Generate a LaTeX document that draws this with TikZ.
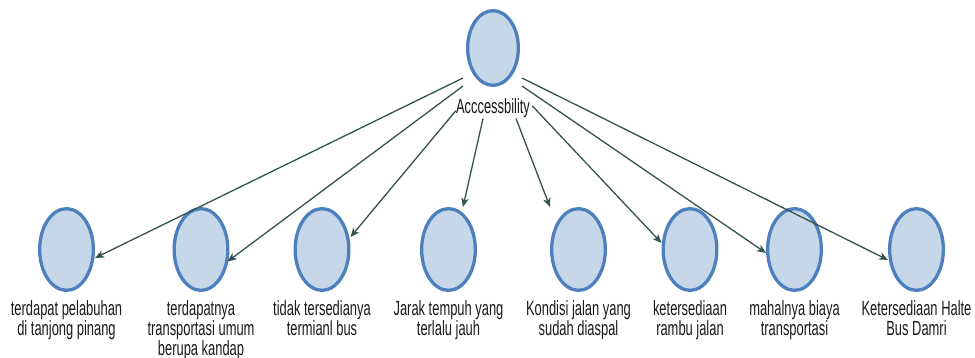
\documentclass[tikz,border=0pt]{standalone}
\usepackage{fontspec}
\setmainfont{Liberation Sans}[FakeStretch=0.63]
\usetikzlibrary{positioning, shapes.geometric, arrows.meta}
\definecolor{bubblefill}{HTML}{C5D7E9}
\definecolor{bubbleline}{HTML}{4E80BD}
\definecolor{linkcolor}{HTML}{35524F}
\begin{document}
\begin{tikzpicture}[x=1pt, y=-1pt,
		bubble/.style={ellipse, draw=bubbleline, fill=bubblefill, line width=3.3pt, inner sep=0pt},
		root/.style={bubble, minimum width=50.7pt, minimum height=74.7pt},
		leaf/.style={bubble, minimum width=53.7pt, minimum height=81.7pt},
		txt/.style={align=center, inner sep=0pt, text=black!90, font=\fontsize{20.5}{20}\selectfont},
		link/.style={draw=linkcolor, line width=1.3pt, -{Stealth[length=9pt, width=7.5pt, inset=2.5pt]}}]
		\useasboundingbox (0, 0) rectangle (975, 358);

		\node[root] (acc) at (493, 48) {};
		\node[txt, below=11pt of acc] (acclbl) {Acccessbility};

		\node[leaf] (n1) at (66.5, 249.5) {};
		\node[leaf] (n2) at (201, 249.5) {};
		\node[leaf] (n3) at (322, 249.5) {};
		\node[leaf] (n4) at (448.5, 249.5) {};
		\node[leaf] (n5) at (578.5, 249.5) {};
		\node[leaf] (n6) at (690, 249.5) {};
		\node[leaf] (n7) at (794.5, 249.5) {};
		\node[leaf] (n8) at (916.5, 249.5) {};

		\node[txt, below=8pt of n1] (t1) {terdapat pelabuhan\\di tanjong pinang};
		\node[txt, below=8pt of n2] (t2) {terdapatnya\\transportasi umum\\berupa kandap};
		\node[txt, below=8pt of n3] (t3) {tidak tersedianya\\termianl bus};
		\node[txt, below=8pt of n4] (t4) {Jarak tempuh yang\\terlalu jauh};
		\node[txt, below=8pt of n5] (t5) {Kondisi jalan yang\\sudah diaspal};
		\node[txt, below=8pt of n6] (t6) {ketersediaan\\rambu jalan};
		\node[txt, below=8pt of n7] (t7) {mahalnya biaya\\transportasi};
		\node[txt, below=8pt of n8] (t8) {Ketersediaan Halte\\Bus Damri};

		\draw[link] ([shift={(-3, 30)}]acc.west) -- ([shift={(0, 8.5)}]n1.east);
		\draw[link] ([shift={(-3, 38)}]acc.west) -- ([shift={(-2, 12)}]n2.east);
		\draw[link] ([shift={(0, 3)}]acclbl.west) -- ([shift={(0, -12.5)}]n3.east);
		\draw[link] ([shift={(-10, 1)}]acclbl.south) -- ([shift={(14.5, 0)}]n4.north);
		\draw[link] ([shift={(23, 1)}]acclbl.south) -- ([shift={(-28.5, 0)}]n5.north);
		\draw[link] ([shift={(2, -2)}]acclbl.east) -- ([shift={(0, -6.5)}]n6.west);
		\draw[link] ([shift={(2, 38)}]acc.east) -- ([shift={(0, 3.5)}]n7.west);
		\draw[link] ([shift={(2, 30)}]acc.east) -- ([shift={(0, 10.5)}]n8.west);
	\end{tikzpicture}
\end{document}
